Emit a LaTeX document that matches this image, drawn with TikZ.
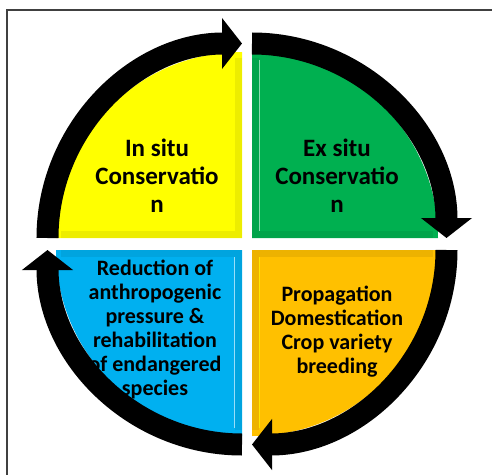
\documentclass[tikz,border=0pt]{standalone}
\usepackage{fontspec}
\setmainfont{Carlito}
\usetikzlibrary{arrows.meta}
\definecolor{insitu}{HTML}{FFFF00}
\definecolor{exsitu}{HTML}{00B050}
\definecolor{propag}{HTML}{FFC000}
\definecolor{reduct}{HTML}{00B0F0}

\begin{document}
\begin{tikzpicture}[x=1pt,y=1pt,
	cycarrow/.style={line width=22pt,-{Triangle[width=50pt,length=20pt]}},
	bigtext/.style={align=center,inner sep=0pt,font=\bfseries\fontsize{25}{28}\selectfont},
	smalltext/.style={align=center,inner sep=0pt,font=\bfseries\fontsize{22}{24}\selectfont}]
\useasboundingbox (-247,-230) rectangle (245,244);
\draw[line width=2pt,black!75] (-240,-232) -- (-240,234) -- (247,234);

% the four quarters, with a bevel on the straight edges
\foreach \sx/\sy/\col/\hl in {-1/1/insitu/insitu, 1/1/exsitu/exsitu!45!white, 1/-1/propag/propag!40!yellow, -1/-1/reduct/cyan!40!white} {
	\begin{scope}[xscale=\sx,yscale=\sy]
	\fill[\col] (5,6) -- (191,6) arc (0:90:186) -- cycle;
	\draw[\col!93!black,line width=7pt] (8.5,186) -- (8.5,9.5) -- (186,9.5);
	\draw[\hl,line width=1.5pt] (12.5,184) -- (12.5,13);
	\end{scope}
}

\node[bigtext] (insitu) at (-90,68) {In situ\\Conservatio\\n};
\node[bigtext] (exsitu) at (90,68) {Ex situ\\Conservatio\\n};
\node[smalltext] (reduction) at (-92,-85) {Reduction of\\anthropogenic\\pressure \&\\rehabilitation\\of endangered\\species};
\node[smalltext] (propagation) at (90,-87.5) {Propagation\\Domestication\\Crop variety\\breeding};

% the cycle
\draw[cycarrow] (-199.5,6) arc (180:90:194.5);
\draw[cycarrow] (5,200.5) arc (90:0:194.5);
\draw[cycarrow] (199.5,-6) arc (0:-90:194.5);
\draw[cycarrow] (-5,-200.5) arc (-90:-180:194.5);
\end{tikzpicture}
\end{document}
